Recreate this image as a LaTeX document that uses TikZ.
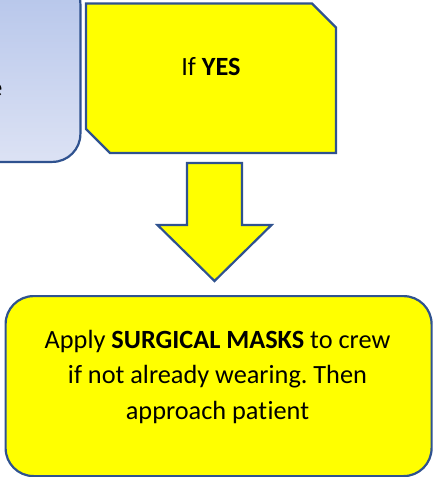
\documentclass[tikz,border=0pt]{standalone}
\usepackage{fontspec}
\setmainfont{Carlito}[Ligatures=NoCommon]
\usepackage{xcolor}
\usetikzlibrary{calc}
\definecolor{edge}{HTML}{2F528F}
\definecolor{ylw}{HTML}{FFFF00}
\definecolor{bltop}{HTML}{B4C4EA}
\definecolor{blbot}{HTML}{DCE2F4}
\frenchspacing
\begin{document}
\begin{tikzpicture}[x=1pt,y=-1pt,line width=2.2pt,font=\fontsize{26.3}{35.5}\selectfont,
  flowbox/.style={draw=edge,fill=ylw,align=center,inner sep=0pt}]
\useasboundingbox (0,0) rectangle (432,477);
\begin{scope}
\clip (0,0) rectangle (432,477);
% blue step on the left, mostly outside the frame
\node[draw=edge,top color=bltop,bottom color=blbot,rounded corners=28pt,
  minimum width=200pt,minimum height=186pt,inner sep=0pt,anchor=south east]
  (prev) at (81.5,163) {};
\node[anchor=east,inner sep=0pt] (prevtxt) at (3.5,90) {e};
\end{scope}
% snipped box
\draw[edge,fill=ylw,line join=miter]
  (86,3.5) -- (312,3.5) -- (336,27.5) -- (336,153) -- (110,153) -- (86,129) -- cycle;
\node[inner sep=0pt] (yes) at (211,67) {If \textbf{YES}};
\node[flowbox,rounded corners=28pt,minimum width=426pt,minimum height=180pt,
  anchor=north west] (masks) at (4.5,295) {};
\node[align=center,inner sep=0pt,anchor=north] (maskstxt) at (217.5,329)
  {Apply \textbf{SURGICAL MASKS} to crew\\if not already wearing. Then\\approach pat\kern0.4pt ient};
% block arrow between the two yellow boxes
\coordinate (atop) at (214.5,163);
\coordinate (atip) at (214.5,281);
\draw[edge,fill=ylw,line join=miter]
  ($(atop)+(-27.5,0)$) -- ($(atop)+(27.5,0)$) -- ($(atop)+(27.5,62)$) --
  ($(atop)+(57,62)$) -- (atip) -- ($(atop)+(-57,62)$) --
  ($(atop)+(-27.5,62)$) -- cycle;
\end{tikzpicture}
\end{document}
